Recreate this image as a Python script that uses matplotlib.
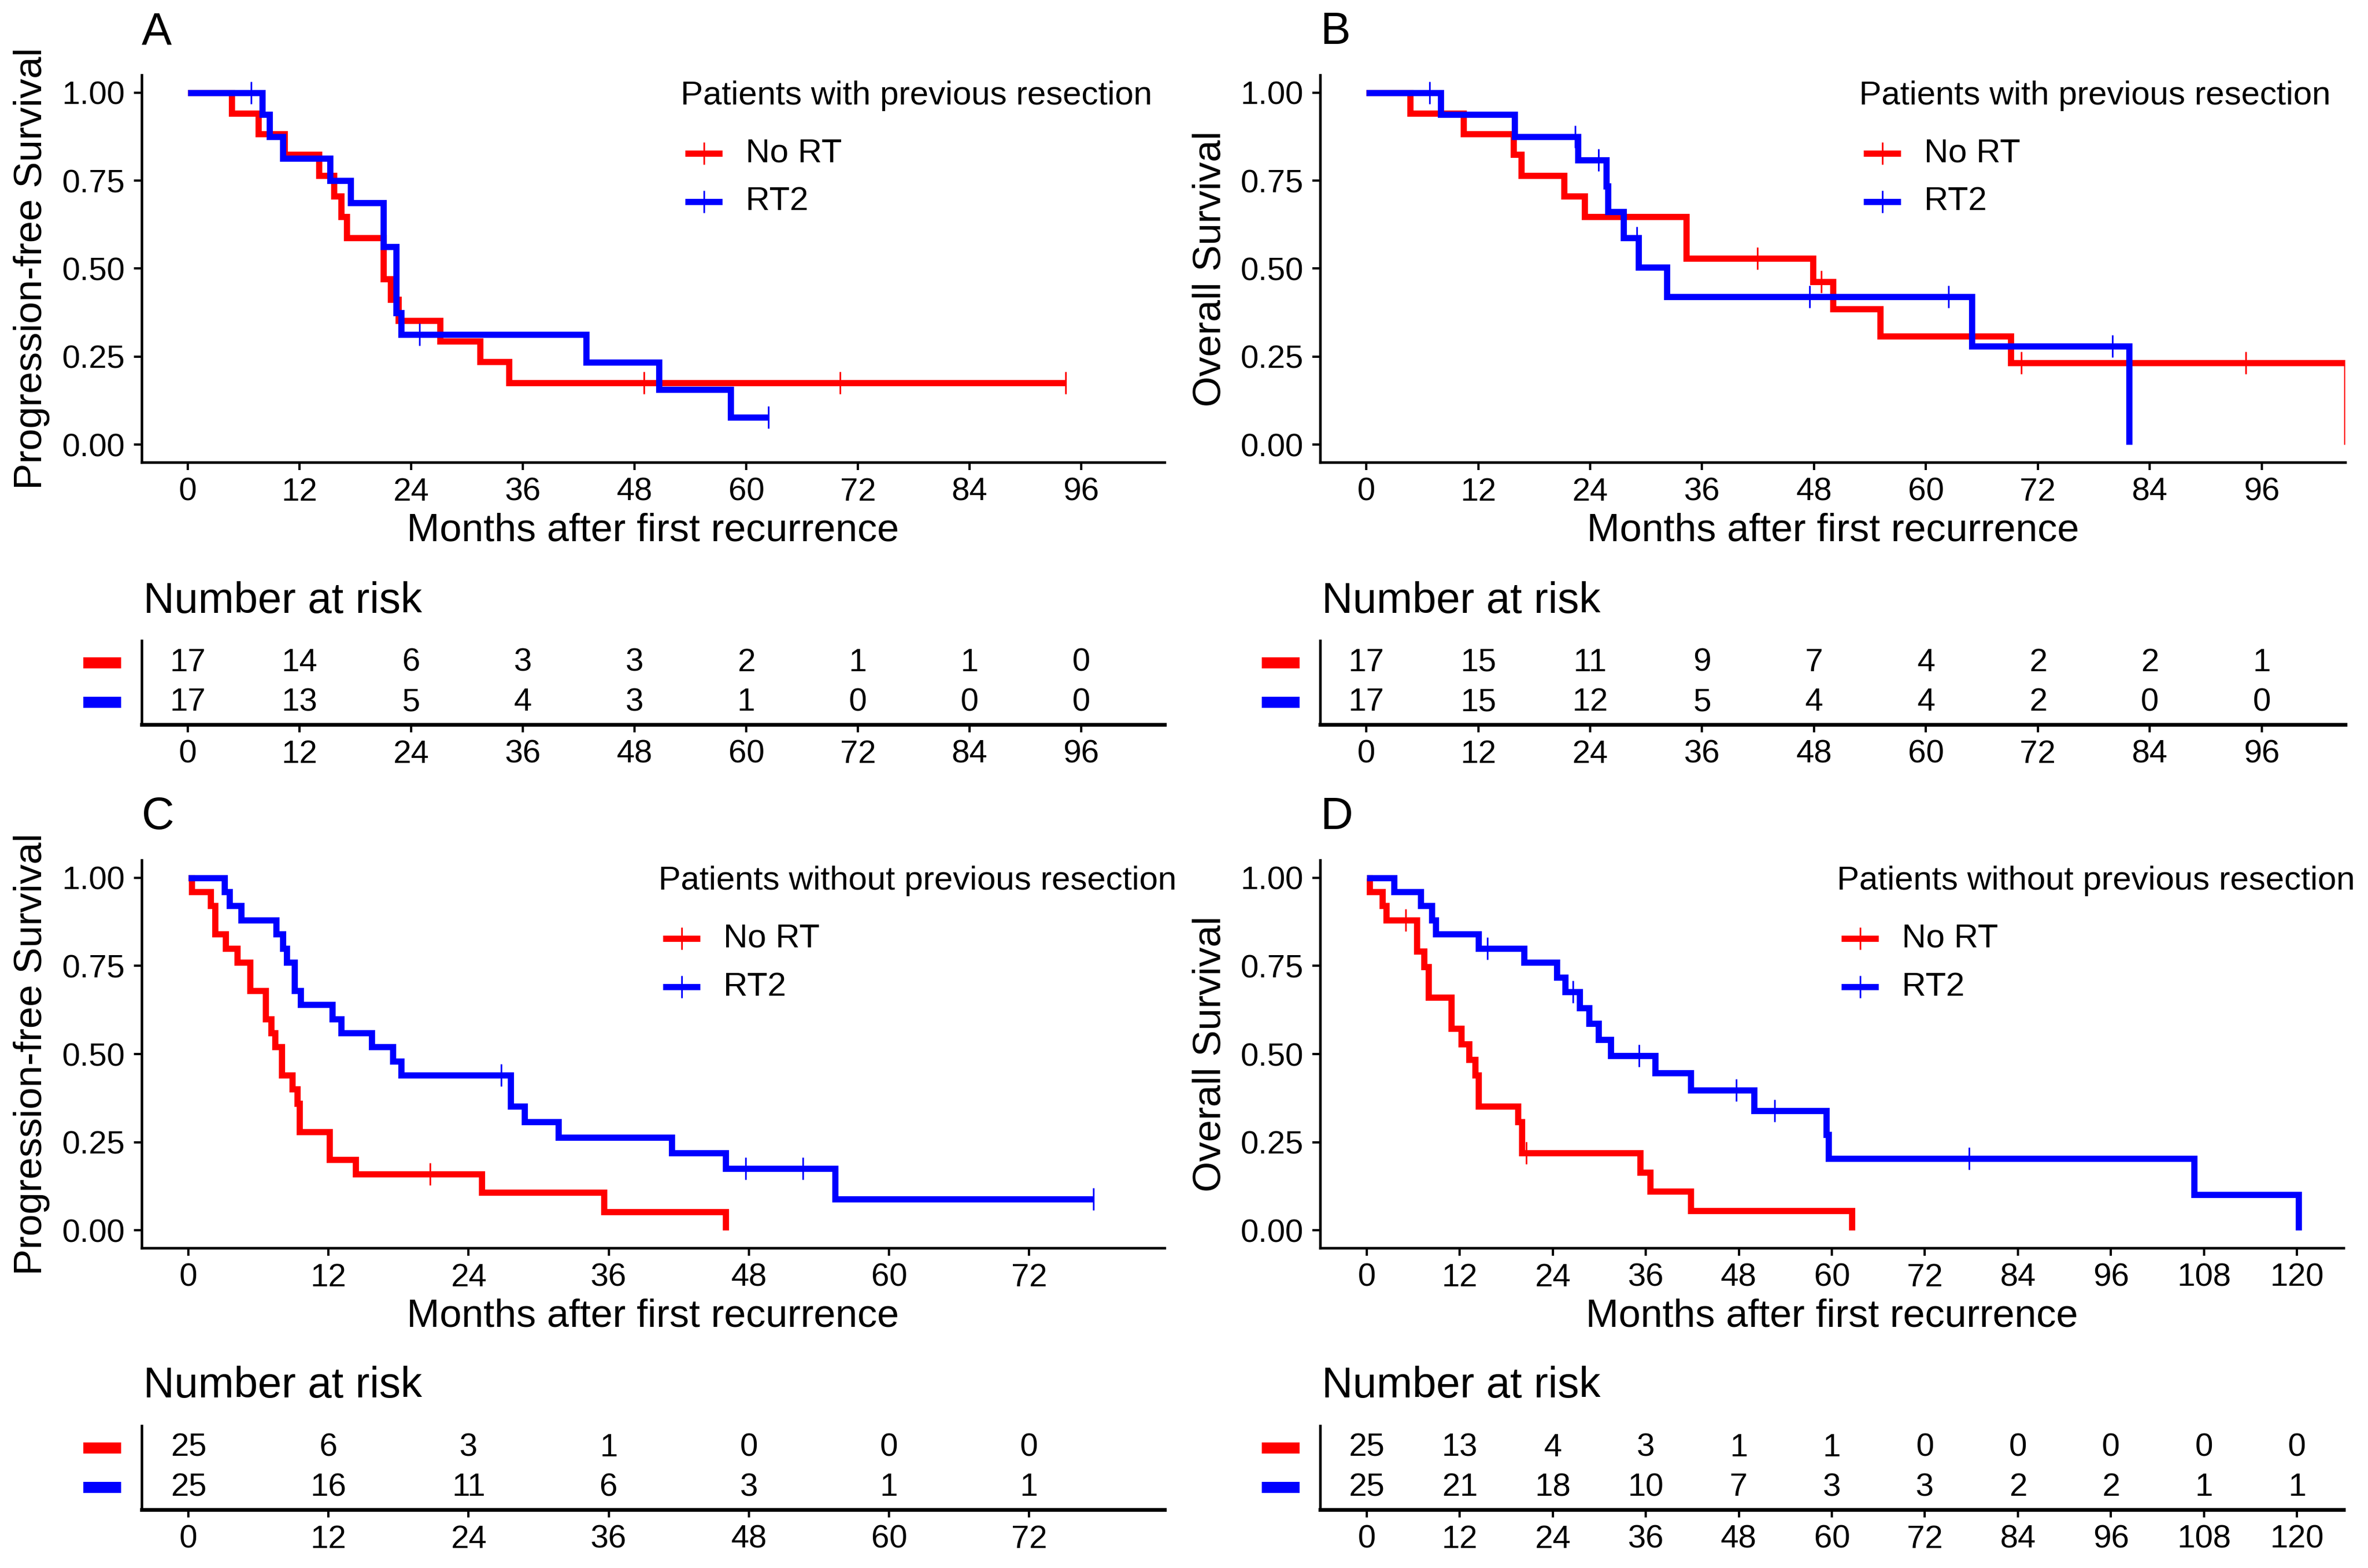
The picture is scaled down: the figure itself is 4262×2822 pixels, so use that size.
"""
Kaplan-Meier curves (PFS / OS) with number-at-risk tables, four panels A-D.
Step values read off the published figure.
"""

import numpy as np
import matplotlib
matplotlib.use("Agg")
import matplotlib.pyplot as plt
from matplotlib.lines import Line2D
from matplotlib.patches import Rectangle
from matplotlib.transforms import Bbox, TransformedBbox, blended_transform_factory

plt.rcParams["font.family"] = ["Liberation Sans", "DejaVu Sans"]

W, H = 4262, 2822
DPI = 300
RED = "#FF0000"
BLUE = "#0000FF"

# ---------------- data ----------------
# Panel A: PFS, patients with previous resection
a_red_t = [0, 4.7, 7.6, 10.4, 14.1, 15.7, 16.5, 17.1, 21.0, 21.8, 22.6, 27.1, 31.4, 34.5]
a_red_s = [1, .941, .882, .824, .765, .706, .647, .588, .471, .412, .353, .294, .235, .176]
a_red_cens = [49.0, 70.1, 94.3]
a_red_end = 94.3
a_blue_t = [0, 8.0, 8.8, 10.2, 15.3, 17.5, 21.0, 22.4, 22.9, 42.8, 50.6, 58.3]
a_blue_s = [1, .9375, .875, .8125, .75, .6875, .5625, .375, .3125, .234, .156, .078]
a_blue_cens = [6.8, 24.9, 62.4]
a_blue_end = 62.4

# Panel B: OS, patients with previous resection
b_red_t = [0, 4.7, 10.4, 15.8, 16.6, 21.2, 23.4, 34.3, 47.9, 50.0, 55.1, 69.1, 105.1]
b_red_s = [1, .941, .882, .824, .765, .706, .647, .529, .463, .386, .309, .232, 0]
b_red_cens = [41.9, 48.8, 70.2, 94.3]
b_red_end = 105.1
b_blue_t = [0, 8.0, 15.9, 22.7, 25.7, 25.9, 27.6, 29.2, 32.2, 64.9, 81.8]
b_blue_s = [1, .9375, .875, .808, .734, .661, .588, .504, .420, .280, 0]
b_blue_cens = [6.8, 22.4, 24.9, 29.0, 47.5, 62.4, 80.0]
b_blue_end = 81.8

# Panel C: PFS, patients without previous resection
c_red_t = [0, 0.3, 1.9, 2.3, 3.2, 4.2, 5.3, 6.6, 7.1, 7.4, 8.0, 8.9, 9.3, 9.5,
           12.1, 14.3, 25.1, 35.6, 46.0]
c_red_s = [1, .96, .92, .84, .80, .76, .68, .60, .56, .52, .44, .40, .36, .28,
           .20, .16, .107, .053, 0]
c_red_cens = [20.7]
c_red_end = 46.0
c_blue_t = [0, 3.1, 3.5, 4.5, 7.5, 8.1, 8.4, 9.1, 9.6, 12.3, 13.1, 15.7, 17.5, 18.2,
            27.6, 28.8, 31.7, 41.4, 46.0, 55.4]
c_blue_s = [1, .96, .92, .88, .84, .80, .76, .68, .64, .60, .56, .52, .48, .44,
            .352, .308, .264, .220, .176, .088]
c_blue_cens = [26.8, 47.7, 52.6, 77.5]
c_blue_end = 77.5

# Panel D: OS, patients without previous resection
d_red_t = [0, 0.4, 2.0, 2.5, 6.5, 7.4, 8.0, 10.9, 12.2, 13.2, 14.0, 14.4, 19.5, 20.0,
           35.3, 36.6, 41.8, 62.6]
d_red_s = [1, .96, .92, .88, .792, .748, .66, .572, .528, .484, .44, .352, .308, .22,
           .165, .11, .055, 0]
d_red_cens = [5.0, 20.6]
d_red_end = 62.6
d_blue_t = [0, 3.5, 7.0, 8.4, 8.9, 14.4, 20.3, 24.5, 25.6, 27.5, 28.7, 29.9, 31.5,
            37.2, 41.8, 50.0, 59.3, 59.6, 106.7, 120.2]
d_blue_s = [1, .96, .92, .88, .84, .80, .76, .718, .676, .631, .586, .541, .496,
            .446, .397, .34, .272, .204, .102, 0]
d_blue_cens = [15.6, 26.6, 35.1, 47.7, 52.6, 77.7]
d_blue_end = 120.2

# numbers at risk
ab_times = [0, 12, 24, 36, 48, 60, 72, 84, 96]
c_times = [0, 12, 24, 36, 48, 60, 72]
d_times = [0, 12, 24, 36, 48, 60, 72, 84, 96, 108, 120]
a_risk_red = [17, 14, 6, 3, 3, 2, 1, 1, 0]
a_risk_blue = [17, 13, 5, 4, 3, 1, 0, 0, 0]
b_risk_red = [17, 15, 11, 9, 7, 4, 2, 2, 1]
b_risk_blue = [17, 15, 12, 5, 4, 4, 2, 0, 0]
c_risk_red = [25, 6, 3, 1, 0, 0, 0]
c_risk_blue = [25, 16, 11, 6, 3, 1, 1]
d_risk_red = [25, 13, 4, 3, 1, 1, 0, 0, 0, 0, 0]
d_risk_blue = [25, 21, 18, 10, 7, 3, 3, 2, 2, 1, 1]

y_ticks = [0, 0.25, 0.5, 0.75, 1.0]
y_ticklabels = ["0.00", "0.25", "0.50", "0.75", "1.00"]
group_labels = ["No RT", "RT2"]


def fbox(l, r, t, b):
    return [l / W, 1 - b / H, (r - l) / W, (b - t) / H]


def fx(px):
    return px / W


def fy(py):
    return 1 - py / H


def style_axis(ax, xlim, xticks):
    ax.set_xlim(*xlim)
    ax.set_xticks(xticks)
    for side in ("top", "right"):
        ax.spines[side].set_visible(False)
    for side in ("left", "bottom"):
        ax.spines[side].set_linewidth(1.1)
    ax.tick_params(direction="out", length=3.4, width=1.0, labelsize=14, pad=3)


def draw_curve(ax, t, s, cens, end, color):
    t = np.asarray(t, float)
    s = np.asarray(s, float)
    tt = np.append(t, end)
    ss = np.append(s, s[-1])
    ax.step(tt, ss, where="post", color=color, lw=2.7,
            solid_capstyle="butt", solid_joinstyle="miter")
    idx = np.searchsorted(t, cens, side="right") - 1
    ax.plot(cens, s[idx], ls="none", marker="|", ms=9.5, mew=0.7, color=color)


def km_panel(fig, box_px, xlim, xticks, curves, ylabel, ylabel_x, letter, legend_title, clip_right=None):
    l, r, t, b = box_px
    ax = fig.add_axes(fbox(l, r, t, b))
    for (ct, cs, cc, ce), color in zip(curves, (RED, BLUE)):
        draw_curve(ax, ct, cs, cc, ce, color)
    style_axis(ax, xlim, xticks)
    ax.set_ylim(-0.05, 1.05)
    ax.set_yticks(y_ticks)
    ax.set_yticklabels(y_ticklabels)
    ax.tick_params(axis="y", pad=3.8)

    fig.text(fx((l + r) / 2), fy(b + 123), "Months after first recurrence",
             ha="center", va="center", fontsize=17)
    fig.text(fx(ylabel_x), fy((t + b) / 2), ylabel, rotation=90,
             ha="center", va="center", fontsize=17)
    fig.text(fx(l), fy(t - 77), letter, ha="left", va="center", fontsize=19.5)

    # legend drawn by hand so it can sit exactly where the original has it
    lx = l + (970 if clip_right is None else 930)
    title = fig.text(fx(lx), fy(t + 38), legend_title, ha="left", va="center", fontsize=14.5)
    if clip_right is not None:
        title.set_clip_box(TransformedBbox(Bbox([[0, 0], [clip_right / W, 1]]), fig.transFigure))
        title.set_clip_on(True)
    for k, (lab, color) in enumerate(zip(group_labels, (RED, BLUE))):
        yy = fy(t + 141 + 87 * k)
        fig.add_artist(Line2D([fx(lx + 8), fx(lx + 75)], [yy, yy], color=color, lw=2.7,
                              solid_capstyle="butt", transform=fig.transFigure))
        fig.add_artist(Line2D([fx(lx + 41.5)], [yy], color=color, marker="|", ms=9.5,
                              mew=0.7, ls="none", transform=fig.transFigure))
        fig.text(fx(lx + 117), yy, lab, ha="left", va="center", fontsize=14.5)
    return ax


def risk_table(fig, box_px, xlim, times, red, blue):
    l, r, t, b = box_px
    ax = fig.add_axes(fbox(l, r, t, b))
    style_axis(ax, xlim, times)
    ax.set_ylim(0.44, 2.56)
    ax.set_yticks([])
    ax.spines["bottom"].set_linewidth(1.6)
    for x, v in zip(times, red):
        ax.text(x, 2, str(v), ha="center", va="center", fontsize=14)
    for x, v in zip(times, blue):
        ax.text(x, 1, str(v), ha="center", va="center", fontsize=14)
    tr = blended_transform_factory(ax.transAxes, ax.transData)
    for yy, color in ((2, RED), (1, BLUE)):
        ax.add_patch(Rectangle((-0.057, yy - 0.14), 0.037, 0.28, transform=tr,
                               color=color, clip_on=False, lw=0))
    fig.text(fx(l + 3), fy(t - 71), "Number at risk", ha="left", va="center", fontsize=18.5)
    return ax


fig = plt.figure(figsize=(W / DPI, H / DPI), dpi=DPI)
fig.patch.set_facecolor("white")

xlim_ab = (-4.95, 104.95)
xlim_c = (-4.0, 83.6)
xlim_d = (-6.0, 126.0)

km_panel(fig, (255, 2096, 135, 832), xlim_ab, ab_times,
         [(a_red_t, a_red_s, a_red_cens, a_red_end),
          (a_blue_t, a_blue_s, a_blue_cens, a_blue_end)],
         "Progression-free Survival", 57, "A", "Patients with previous resection")
km_panel(fig, (2376, 4221, 135, 832), xlim_ab, ab_times,
         [(b_red_t, b_red_s, b_red_cens, b_red_end),
          (b_blue_t, b_blue_s, b_blue_cens, b_blue_end)],
         "Overall Survival", 2178, "B", "Patients with previous resection")
km_panel(fig, (255, 2096, 1548, 2246), xlim_c, c_times,
         [(c_red_t, c_red_s, c_red_cens, c_red_end),
          (c_blue_t, c_blue_s, c_blue_cens, c_blue_end)],
         "Progression-free Survival", 57, "C", "Patients without previous resection",
         clip_right=2131)
km_panel(fig, (2376, 4218, 1548, 2246), xlim_d, d_times,
         [(d_red_t, d_red_s, d_red_cens, d_red_end),
          (d_blue_t, d_blue_s, d_blue_cens, d_blue_end)],
         "Overall Survival", 2178, "D", "Patients without previous resection",
         clip_right=W)

risk_table(fig, (255, 2096, 1153, 1304), xlim_ab, ab_times, a_risk_red, a_risk_blue)
risk_table(fig, (2376, 4221, 1153, 1304), xlim_ab, ab_times, b_risk_red, b_risk_blue)
risk_table(fig, (255, 2096, 2566, 2717), xlim_c, c_times, c_risk_red, c_risk_blue)
risk_table(fig, (2376, 4218, 2566, 2717), xlim_d, d_times, d_risk_red, d_risk_blue)

fig.savefig("out.png", dpi=DPI)
